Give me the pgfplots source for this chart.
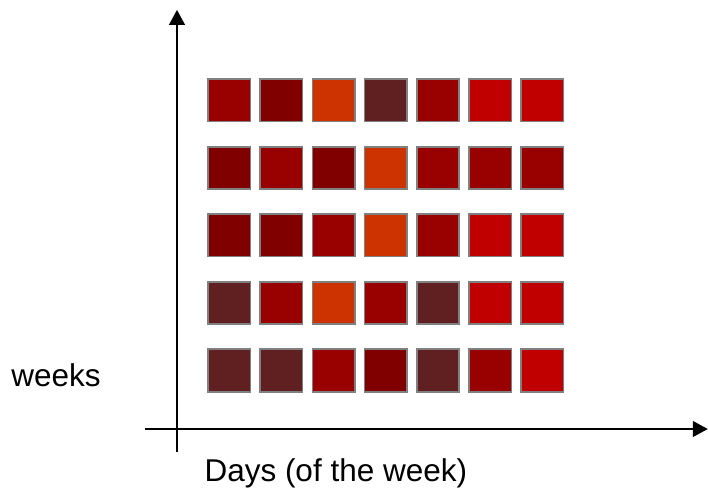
\documentclass[border=0pt]{standalone}
\usepackage{pgfplots}
\pgfplotsset{compat=1.18}
\usepackage{pgfplotstable}
\usepackage{fontspec}
\setmainfont{Liberation Sans}
\usetikzlibrary{arrows.meta}

\definecolor{cMid}{HTML}{990000}
\definecolor{cMaroon}{HTML}{800000}
\definecolor{cOrange}{HTML}{CC3300}
\definecolor{cBrown}{HTML}{602022}
\definecolor{cBright}{HTML}{C00000}

% day, week (1 = bottom row), colour class
\pgfplotstableread{
day week c
1 5 A
2 5 B
3 5 C
4 5 D
5 5 A
6 5 E
7 5 E
1 4 B
2 4 A
3 4 B
4 4 C
5 4 A
6 4 A
7 4 A
1 3 B
2 3 B
3 3 A
4 3 C
5 3 A
6 3 E
7 3 E
1 2 D
2 2 A
3 2 C
4 2 A
5 2 D
6 2 E
7 2 E
1 1 D
2 1 D
3 1 A
4 1 B
5 1 D
6 1 A
7 1 E
}\cells

\begin{document}
\begin{tikzpicture}
\path[use as bounding box] (0,0) rectangle (708pt,490pt);
\begin{axis}[
    at={(177pt,61pt)}, anchor=origin,
    x=52.2pt, y=67.5pt,
    xmin=-0.613, xmax=10.17,
    ymin=-0.341, ymax=6.21,
    axis lines=middle,
    axis line style={line width=2.4pt, black, -{Triangle[width=15.5pt,length=15pt]}},
    xtick=\empty, ytick=\empty,
    clip=false,
    font=\fontsize{31.5}{38}\selectfont,
    xlabel={Days (of the week)},
    ylabel={weeks},
    xlabel style={at={(axis description cs:0.339,-0.067)}, anchor=base, inner sep=0pt},
    ylabel style={at={(axis description cs:-0.158,0.148)}, anchor=base, inner sep=0pt, rotate=0},
]
\addplot[
    scatter, only marks,
    scatter src=explicit symbolic,
    mark size=21.2pt,
    scatter/classes={
        A={mark=square*, draw=gray, fill=cMid, line width=1.6pt},
        B={mark=square*, draw=gray, fill=cMaroon, line width=1.6pt},
        C={mark=square*, draw=gray, fill=cOrange, line width=1.6pt},
        D={mark=square*, draw=gray, fill=cBrown, line width=1.6pt},
        E={mark=square*, draw=gray, fill=cBright, line width=1.6pt}
    },
] table[x=day, y expr=\thisrow{week}-0.1333, meta=c] {\cells};
\end{axis}
\end{tikzpicture}
\end{document}
